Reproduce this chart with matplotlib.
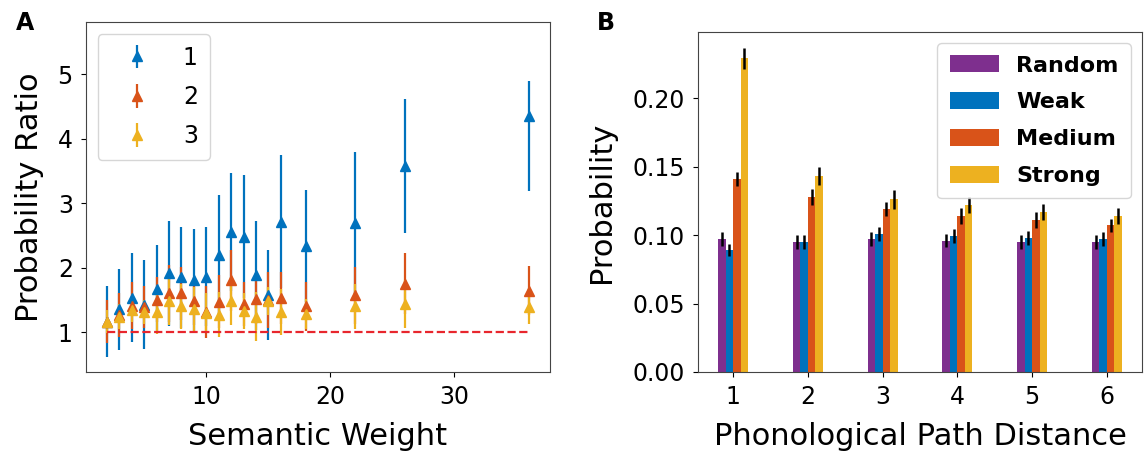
import matplotlib
matplotlib.use('Agg')
import matplotlib.pyplot as plt

# ---- panel A data: semantic weight vs probability ratio ----
weights = [2, 3, 4, 5, 6, 7, 8, 9, 10, 11, 12, 13, 14, 15, 16, 18, 22, 26, 36]

ratio1 = [1.16, 1.35, 1.53, 1.42, 1.67, 1.91, 1.85, 1.81, 1.86, 2.19, 2.55, 2.48, 1.88, 1.57, 2.71, 2.33, 2.69, 3.58, 4.35]
err1_lo = [0.55, 0.63, 0.69, 0.69, 0.68, 0.82, 0.78, 0.79, 0.77, 0.93, 0.92, 0.95, 0.85, 0.70, 1.03, 0.87, 1.11, 1.04, 1.16]
err1_hi = [0.56, 0.63, 0.69, 0.69, 0.68, 0.82, 0.78, 0.79, 0.77, 0.93, 0.92, 0.95, 0.85, 0.70, 1.03, 0.87, 1.11, 1.04, 0.54]

ratio2 = [1.16, 1.26, 1.41, 1.39, 1.50, 1.60, 1.60, 1.48, 1.31, 1.47, 1.80, 1.44, 1.52, 1.50, 1.53, 1.40, 1.57, 1.75, 1.64]
err2 = [0.33, 0.34, 0.37, 0.33, 0.35, 0.44, 0.41, 0.37, 0.41, 0.41, 0.47, 0.34, 0.39, 0.43, 0.40, 0.38, 0.44, 0.47, 0.38]

ratio3 = [1.16, 1.24, 1.34, 1.31, 1.31, 1.48, 1.40, 1.36, 1.30, 1.27, 1.48, 1.32, 1.24, 1.48, 1.31, 1.28, 1.40, 1.43, 1.39]
err3 = [0.18, 0.20, 0.18, 0.18, 0.34, 0.37, 0.35, 0.34, 0.30, 0.35, 0.37, 0.28, 0.38, 0.22, 0.36, 0.24, 0.35, 0.37, 0.27]

# ---- panel B data: phonological path distance vs probability ----
distance = [1, 2, 3, 4, 5, 6]
groups = ['Random', 'Weak', 'Medium', 'Strong']
prob_random = [0.097, 0.095, 0.097, 0.096, 0.095, 0.095]
prob_weak = [0.089, 0.095, 0.101, 0.0995, 0.098, 0.097]
prob_medium = [0.141, 0.128, 0.119, 0.114, 0.111, 0.107]
prob_strong = [0.229, 0.143, 0.126, 0.122, 0.117, 0.114]
err_random = [0.005, 0.005, 0.005, 0.005, 0.005, 0.005]
err_weak = [0.0045, 0.005, 0.005, 0.005, 0.005, 0.005]
err_medium = [0.005, 0.006, 0.005, 0.006, 0.006, 0.005]
err_strong = [0.0075, 0.0065, 0.007, 0.006, 0.006, 0.006]

purple, blue, orange, yellow = '#7E2F8E', '#0072BD', '#D95319', '#EDB120'

fig = plt.figure(figsize=(11.46, 4.51), dpi=100)

# ---------------- panel A ----------------
axA = fig.add_axes([0.075, 0.1752, 0.4049, 0.776])
axA.errorbar(weights, ratio1, yerr=[err1_lo, err1_hi], fmt='^', color=blue,
             ms=6.5, elinewidth=1.6, capsize=0, label='1')
axA.errorbar(weights, ratio2, yerr=err2, fmt='^', color=orange,
             ms=6.5, elinewidth=1.6, capsize=0, label='2')
axA.errorbar(weights, ratio3, yerr=err3, fmt='^', color=yellow,
             ms=6.5, elinewidth=1.6, capsize=0, label='3')
axA.hlines(1, weights[0], weights[-1], colors='#E8262D', linestyles='--', lw=1.6)
axA.set_xlim(0.3, 37.7)
axA.set_ylim(0.38, 5.81)
axA.set_yticks([1, 2, 3, 4, 5])
axA.set_xticks([10, 20, 30])
axA.set_xlabel('Semantic Weight', fontsize=22, labelpad=9)
axA.set_ylabel('Probability Ratio', fontsize=22, labelpad=10)
axA.tick_params(labelsize=17, pad=6)
axA.legend(loc='upper left', fontsize=17, handlelength=2.3, labelspacing=0.65,
           borderpad=0.5)

# ---------------- panel B ----------------
axB = fig.add_axes([0.6091, 0.1752, 0.3874, 0.7539])
w = 0.1
series = [(prob_random, err_random, purple), (prob_weak, err_weak, blue),
          (prob_medium, err_medium, orange), (prob_strong, err_strong, yellow)]
for i, (vals, errs, col) in enumerate(series):
    pos = [d + (i - 1.5) * w for d in distance]
    axB.bar(pos, vals, width=w, color=col, label=groups[i],
            yerr=errs, error_kw=dict(ecolor='black', elinewidth=1.8, capsize=0))
axB.set_xticks(distance)
axB.set_yticks([0.0, 0.05, 0.10, 0.15, 0.20])
axB.set_yticklabels(['0.00', '0.05', '0.10', '0.15', '0.20'])
axB.set_xlabel('Phonological Path Distance', fontsize=22, labelpad=9)
axB.set_ylabel('Probability', fontsize=22, labelpad=12)
axB.tick_params(labelsize=17, pad=6)
axB.legend(loc='upper right', prop=dict(weight='bold', size=16),
           labelspacing=0.75, handleheight=0.8, handlelength=2.2, borderpad=0.55)

for ax in (axA, axB):
    for s in ax.spines.values():
        s.set_edgecolor('#444444')

fig.text(0.014, 0.975, 'A', fontsize=17, fontweight='bold', va='top')
fig.text(0.521, 0.975, 'B', fontsize=17, fontweight='bold', va='top')

plt.savefig('out.png', dpi=100)
